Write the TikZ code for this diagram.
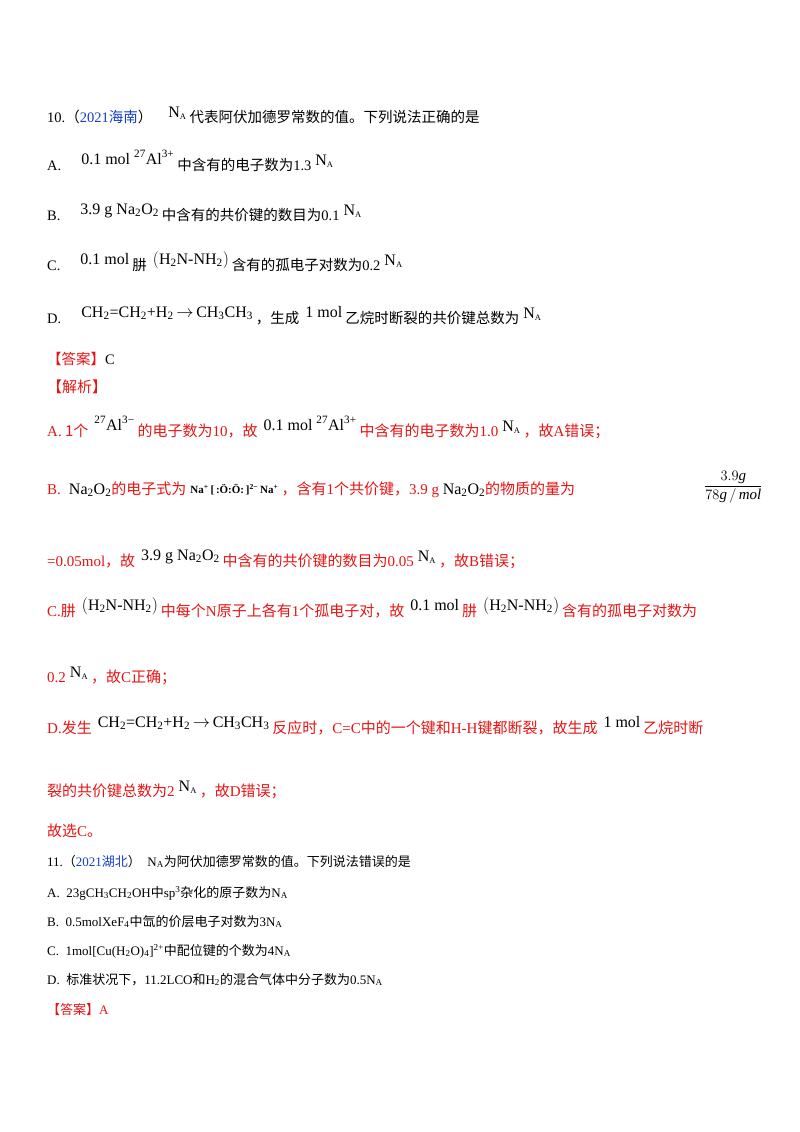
\documentclass[tikz,border=0pt]{standalone}
\usepackage{fontspec}
\setmainfont{Liberation Serif}
\newfontfamily\cjk{Noto Sans CJK SC}
\definecolor{rd}{RGB}{230,20,20}
\definecolor{bl}{RGB}{20,60,200}
\newcommand{\NA}{\hspace{4pt}\raisebox{5pt}{\fontsize{16}{16}\selectfont N\textsubscript{\fontsize{8.5}{8.5}\selectfont A}}\hspace{3pt}}
\newcommand{\rz}[1]{\hspace{6pt}\raisebox{6pt}{\textcolor{black}{\fontsize{16}{16}\selectfont #1}}\hspace{3pt}}
\newcommand{\NAs}{N\textsubscript{A}}
\begin{document}
\begin{tikzpicture}[x=1pt,y=-1pt,
  t/.style={anchor=base west,inner sep=0pt,font=\fontsize{14.5}{16}\selectfont},
  s/.style={anchor=base west,inner sep=0pt,font=\fontsize{13}{15}\selectfont},
  r/.style={anchor=base west,inner sep=0pt,font=\fontsize{15}{17}\selectfont,text=rd}]
\useasboundingbox (0,0) rectangle (800,1132);
\node[t] (l1) at (47,122) {10.{\cjk（}\textcolor{bl}{2021{\cjk 海南}}{\cjk ）}\hspace{12pt}\NA{\cjk 代表阿伏加德罗常数的值。下列说法正确的是}};
\node[t] (la) at (47,170) {A.\hspace{14pt}\rz{0.1 mol \textsuperscript{27}Al\textsuperscript{3+}}{\cjk 中含有的电子数为}1.3\NA};
\node[t] (lb) at (47,220) {B.\hspace{14pt}\rz{3.9 g Na\textsubscript{2}O\textsubscript{2}}{\cjk 中含有的共价键的数目为}0.1\NA};
\node[t] (lc) at (47,270) {C.\hspace{14pt}\rz{0.1 mol}{\cjk 肼}\rz{$\bigl($H\textsubscript{2}N-NH\textsubscript{2}$\bigr)$}{\cjk 含有的孤电子对数为}0.2\NA};
\node[t] (ld) at (47,323) {D.\hspace{14pt}\rz{CH\textsubscript{2}=CH\textsubscript{2}+H\textsubscript{2}\,$\rightarrow$\,CH\textsubscript{3}CH\textsubscript{3}}{\cjk ，生成}\rz{1 mol}{\cjk 乙烷时断裂的共价键总数为}\NA};
\node[t] (ans) at (47,364) {\textcolor{rd}{\cjk 【答案】}C};
\node[r] (jx) at (47,392) {\cjk 【解析】};
\node[r] (ra) at (47,436) {A.{\cjk\ 1个}\rz{\textsuperscript{27}Al\textsuperscript{3−}}{\cjk 的电子数为}10{\cjk ，故}\rz{0.1 mol \textsuperscript{27}Al\textsuperscript{3+}}{\cjk 中含有的电子数为}1.0\textcolor{black}{\NA}{\cjk ，故}A{\cjk 错误；}};
\node[r] (rb) at (47,494) {B.\hspace{8pt}\textcolor{black}{\fontsize{16}{16}\selectfont Na\textsubscript{2}O\textsubscript{2}}{\cjk 的电子式为}\hspace{4pt}\raisebox{1pt}{\textcolor{black}{\fontsize{11}{11}\selectfont\bfseries Na\textsuperscript{+}\,[\,:\"{O}:\"{O}:\,]\textsuperscript{2−}\,Na\textsuperscript{+}}}\hspace{3pt}{\cjk ，含有}1{\cjk 个共价键，}3.9 g \textcolor{black}{\fontsize{16}{16}\selectfont Na\textsubscript{2}O\textsubscript{2}}{\cjk 的物质的量为}};
\node[t,font=\fontsize{15}{17}\selectfont] (fr) at (704,490) {$\displaystyle\frac{3.9\mathit{g}}{78\mathit{g\,/\,mol}}$};
\node[r] (rb2) at (47,566) {=0.05mol{\cjk ，故}\rz{3.9 g Na\textsubscript{2}O\textsubscript{2}}{\cjk 中含有的共价键的数目为}0.05\textcolor{black}{\NA}{\cjk ，故}B{\cjk 错误；}};
\node[r] (rc) at (47,616) {C.{\cjk 肼}\rz{$\bigl($H\textsubscript{2}N-NH\textsubscript{2}$\bigr)$}{\cjk 中每个}N{\cjk 原子上各有}1{\cjk 个孤电子对，故}\rz{0.1 mol}{\cjk 肼}\rz{$\bigl($H\textsubscript{2}N-NH\textsubscript{2}$\bigr)$}{\cjk 含有的孤电子对数为}};
\node[r] (rc2) at (47,682) {0.2\textcolor{black}{\NA}{\cjk ，故}C{\cjk 正确；}};
\node[r] (rd1) at (47,733) {D.{\cjk 发生}\rz{CH\textsubscript{2}=CH\textsubscript{2}+H\textsubscript{2}\,$\rightarrow$\,CH\textsubscript{3}CH\textsubscript{3}}{\cjk 反应时，}C=C{\cjk 中的一个键和}H-H{\cjk 键都断裂，故生成}\rz{1 mol}{\cjk 乙烷时断}};
\node[r] (rd2) at (47,796) {{\cjk 裂的共价键总数为}2\textcolor{black}{\NA}{\cjk ，故}D{\cjk 错误；}};
\node[r] (sel) at (47,836) {{\cjk 故选}C{\cjk 。}};
\node[s] (q11) at (47,866) {11.{\cjk（}\textcolor{bl}{2021{\cjk 湖北}}{\cjk ）}\ \ \NAs{\cjk 为阿伏加德罗常数的值。下列说法错误的是}};
\node[s] (qa) at (47,897) {A.\ \ 23gCH\textsubscript{3}CH\textsubscript{2}OH{\cjk 中}sp\textsuperscript{3}{\cjk 杂化的原子数为}\NAs};
\node[s] (qb) at (47,926) {B.\ \ 0.5molXeF\textsubscript{4}{\cjk 中氙的价层电子对数为}3\NAs};
\node[s] (qc) at (47,955) {C.\ \ 1mol[Cu(H\textsubscript{2}O)\textsubscript{4}]\textsuperscript{2+}{\cjk 中配位键的个数为}4\NAs};
\node[s] (qd) at (47,984) {D.\ \ {\cjk 标准状况下，}11.2LCO{\cjk 和}H\textsubscript{2}{\cjk 的混合气体中分子数为}0.5\NAs};
\node[s,text=rd] (ans2) at (47,1014) {{\cjk 【答案】}A};
\end{tikzpicture}
\end{document}
